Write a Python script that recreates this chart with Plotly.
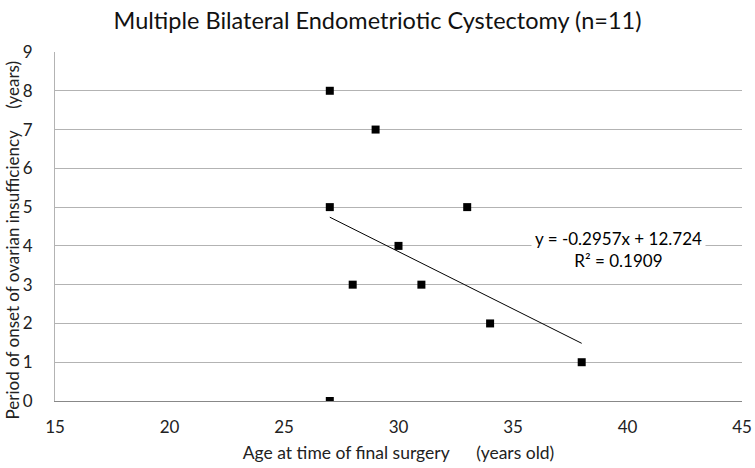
import plotly.graph_objects as go

# data
age = [27, 29, 27, 33, 30, 28, 31, 34, 38, 27]
onset_years = [8, 7, 5, 5, 4, 3, 3, 2, 1, 0]

# Excel-style linear trendline
slope = -0.2957
intercept = 12.724
r_squared = 0.1909

x_ticks = [15, 20, 25, 30, 35, 40, 45]
y_ticks = list(range(0, 10))

FONT = "Lato, 'Open Sans', sans-serif"
NB = "\u00a0"

trend_x = [min(age), max(age)]
trend_y = [slope * v + intercept for v in trend_x]

fig = go.Figure()
fig.add_trace(go.Scatter(
    x=trend_x, y=trend_y, mode="lines",
    line=dict(color="black", width=1), hoverinfo="skip",
))
fig.add_trace(go.Scatter(
    x=age, y=onset_years, mode="markers",
    marker=dict(symbol="square", size=8, color="black"),
))

fig.add_annotation(
    x=39.6, y=3.9, xref="x", yref="y", showarrow=False,
    text=f"y = {slope}x + {intercept}<br>R² = {r_squared}",
    font=dict(family=FONT, size=17, color="black"),
    bgcolor="white", borderpad=3, align="center",
)

# y axis title placed by hand (sits a little below the axis centre)
fig.add_annotation(
    x=-43 / 687, y=0.46, xref="paper", yref="paper", showarrow=False,
    xanchor="center", yanchor="middle", textangle=-90,
    text=f"Period of onset of ovarian insufficiency{NB*5}(years)",
    font=dict(family=FONT, size=17, color="#222"),
)

fig.update_layout(
    width=755, height=468,
    margin=dict(l=55, r=13, t=52, b=67),
    paper_bgcolor="white", plot_bgcolor="white",
    showlegend=False,
    font=dict(family=FONT, size=17, color="#222"),
    title=dict(
        text="Multiple Bilateral Endometriotic Cystectomy (n=11)",
        x=0.5, xanchor="center", y=0.955, yanchor="middle",
        font=dict(family=FONT, size=23.5, color="#111"),
    ),
)
fig.update_xaxes(
    range=[15, 45], tickvals=x_ticks, showgrid=False, zeroline=False,
    showline=True, linecolor="#888888", linewidth=1,
    ticks="", ticklabelstandoff=11, automargin=False,
    title=dict(text=f"Age at time of final surgery{NB*6}(years old)",
               font=dict(size=17.5), standoff=10),
)
fig.update_yaxes(
    range=[0, 9], tickvals=y_ticks, showgrid=True, gridcolor="#b3b3b3", gridwidth=1,
    zeroline=False, showline=True, linecolor="#b3b3b3", linewidth=1,
    ticks="", ticklabelstandoff=18, automargin=False,
)

fig.write_html("out.html", config={"displayModeBar": False},
               post_script="document.body.style.margin='0';")
